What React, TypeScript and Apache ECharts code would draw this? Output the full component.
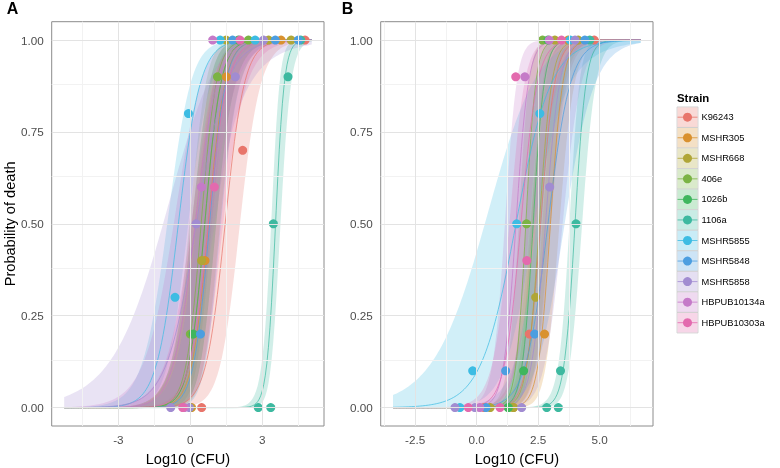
import React, { useEffect, useRef } from "react";
import * as echarts from "echarts";

const strains = ["K96243", "MSHR305", "MSHR668", "406e", "1026b", "1106a", "MSHR5855", "MSHR5848", "MSHR5858", "HBPUB10134a", "HBPUB10303a"];
const colors = ["#E8756B", "#D9912F", "#B0A637", "#7BB344", "#3FB65D", "#3DB9A0", "#3DBCE3", "#4C9EE0", "#A18CD1", "#C57AC8", "#E36AAE"];

// fitted logistic model per strain: [LD50 midpoint, slope, se centre, se0, se1]
const fitA = [
  [1.45, 2.5, 1.5, 1.5, 0.6],
  [0.75, 2.9, 1.0, 1.4, 1.1],
  [0.6, 3.0, 0.8, 1.4, 1.1],
  [0.45, 3.2, 0.6, 1.4, 1.1],
  [0.6, 3.0, 0.8, 1.4, 1.1],
  [3.55, 5.5, 3.4, 1.0, 1.5],
  [-0.5, 2.2, 0.0, 0.9, 0.5],
  [0.8, 3.0, 1.0, 1.4, 1.1],
  [0.25, 1.6, 1.2, 1.2, 0.8],
  [0.2, 2.2, 0.8, 1.5, 0.85],
  [0.75, 2.5, 1.0, 1.5, 1.0],
];
const fitB = [
  [2.6, 3.5, 2.6, 1.4, 1.0],
  [3.0, 4.0, 2.8, 1.3, 1.2],
  [2.55, 4.0, 2.0, 1.3, 1.1],
  [2.0, 5.0, 2.0, 1.4, 1.3],
  [2.3, 4.5, 2.0, 1.3, 1.2],
  [4.0, 4.5, 3.6, 1.0, 1.2],
  [1.6, 1.4, 3.0, 1.0, 0.55],
  [2.9, 2.2, 2.0, 1.0, 0.7],
  [2.8, 3.5, 1.5, 1.4, 1.0],
  [1.6, 4.0, 1.0, 1.8, 1.1],
  [1.8, 3.0, 1.2, 1.4, 1.0],
];

// observed proportion of deaths [log10 CFU, proportion]
const pointsA = [
  [[0.47, 0], [2.18, 0.7], [4.78, 1]],
  [[0.05, 0], [0.61, 0.4], [1.5, 0.9], [3.78, 1]],
  [[0.0, 0], [0.47, 0.4], [1.49, 1], [3.26, 1], [4.2, 1]],
  [[0.0, 0.2], [1.13, 0.9], [2.42, 1]],
  [[0.12, 0.2], [2.0, 1]],
  [[2.83, 0], [3.35, 0], [3.46, 0.5], [4.07, 0.9], [4.6, 1]],
  [[-0.64, 0.3], [-0.08, 0.8], [1.24, 1], [2.7, 1]],
  [[0.42, 0.2], [1.76, 1], [3.54, 1], [4.5, 1]],
  [[-0.82, 0], [-0.04, 0], [0.24, 0.5], [1.875, 0.9], [3.05, 1]],
  [[-0.25, 0], [0.46, 0.6], [0.93, 1]],
  [[-0.32, 0], [1.0, 0.6], [2.07, 1]],
];
const pointsB = [
  [[0.3, 0], [2.14, 0.2], [4.78, 1]],
  [[1.5, 0], [2.76, 0.2], [3.72, 1]],
  [[0.55, 0], [1.49, 0], [2.4, 0.3], [3.18, 1], [4.13, 1]],
  [[1.3, 0], [2.03, 0.5], [2.68, 1]],
  [[1.28, 0], [1.91, 0.1], [2.9, 1]],
  [[2.85, 0], [3.32, 0], [3.41, 0.1], [4.04, 0.5], [4.6, 1]],
  [[-0.68, 0], [-0.16, 0.1], [1.63, 0.5], [2.57, 0.8], [3.8, 1]],
  [[0.38, 0], [1.18, 0.1], [2.36, 0.2], [4.4, 1]],
  [[-0.88, 0], [-0.07, 0], [1.83, 0], [2.97, 0.6], [4.0, 1]],
  [[0.13, 0], [1.96, 0.9], [2.95, 1]],
  [[-0.34, 0], [0.95, 0], [2.04, 0.4], [1.59, 0.9], [3.45, 1]],
];

const axisA = { min: -5.78, max: 5.57, curve: [-5.26, 5.06], major: [-3, 0, 3], minor: [-4.5, -1.5, 1.5, 4.5], digits: 0 };
const axisB = { min: -3.9, max: 7.17, curve: [-3.4, 6.67], major: [-2.5, 0, 2.5, 5], minor: [-3.75, -1.25, 1.25, 3.75, 6.25], digits: 1 };
const yMajor = [0, 0.25, 0.5, 0.75, 1];
const yMinor = [0.125, 0.375, 0.625, 0.875];

const FONT = "'Liberation Sans', Arial, sans-serif";

function rgba(hex: string, a: number) {
  const n = parseInt(hex.slice(1), 16);
  return `rgba(${(n >> 16) & 255},${(n >> 8) & 255},${n & 255},${a})`;
}
const plogis = (e: number) => 1 / (1 + Math.exp(-e));

function predict(fit: number[], range: number[]) {
  const [m, b, c, s0, s1] = fit;
  const out: number[][] = [];
  const n = 160;
  for (let i = 0; i <= n; i++) {
    const x = range[0] + ((range[1] - range[0]) * i) / n;
    const eta = b * (x - m);
    const hw = Math.sqrt(s0 * s0 + s1 * s1 * (x - c) * (x - c));
    out.push([x, plogis(eta), plogis(eta - hw), plogis(eta + hw)]);
  }
  return out;
}

const GRID_TOP = 21.7;
const GRID_H = 404.3;
const GRID_W = 272.3;
const LEFTS = [51.7, 380.7];

export default function App() {
  const ref = useRef<HTMLDivElement>(null);
  useEffect(() => {
    if (!ref.current) return;
    const chart = echarts.init(ref.current, undefined, { renderer: "svg" });
    const panels = [
      { axis: axisA, fit: fitA, pts: pointsA },
      { axis: axisB, fit: fitB, pts: pointsB },
    ];
    const series: any[] = [];
    panels.forEach((p, pi) => {
      series.push({
        type: "line",
        xAxisIndex: pi,
        yAxisIndex: pi,
        data: [],
        z: 0,
        silent: true,
        markLine: {
          silent: true,
          symbol: "none",
          label: { show: false },
          animation: false,
          data: [
            ...p.axis.minor.map((v) => ({ xAxis: v, lineStyle: { color: "#F2F2F2", width: 1, type: "solid" } })),
            ...yMinor.map((v) => ({ yAxis: v, lineStyle: { color: "#F2F2F2", width: 1, type: "solid" } })),
            ...p.axis.major.map((v) => ({ xAxis: v, lineStyle: { color: "#E3E3E3", width: 1, type: "solid" } })),
            ...yMajor.map((v) => ({ yAxis: v, lineStyle: { color: "#E3E3E3", width: 1, type: "solid" } })),
          ],
        },
      });
      const preds = p.fit.map((f) => predict(f, p.axis.curve));
      preds.forEach((band, si) => {
        const fill = rgba(colors[si], 0.24);
        series.push({
          type: "custom",
          xAxisIndex: pi,
          yAxisIndex: pi,
          z: 1,
          silent: true,
          data: band.map((d) => [d[0], d[2], d[3]]),
          encode: { x: 0, y: [1, 2] },
          renderItem: (params: any, api: any) => {
            if (params.dataIndex !== 0) return null;
            const up = band.map((d) => api.coord([d[0], d[3]]));
            const lo = band.map((d) => api.coord([d[0], d[2]])).reverse();
            return { type: "polygon", shape: { points: up.concat(lo) }, style: { fill, stroke: "none" } };
          },
        });
      });
      preds.forEach((band, si) => {
        series.push({
          type: "line",
          xAxisIndex: pi,
          yAxisIndex: pi,
          z: 2,
          silent: true,
          showSymbol: false,
          symbol: "none",
          data: band.map((d) => [d[0], d[1]]),
          lineStyle: { color: colors[si], width: 0.8, opacity: 0.9 },
        });
      });
      p.pts.forEach((pts, si) => {
        series.push({
          type: "scatter",
          name: strains[si],
          xAxisIndex: pi,
          yAxisIndex: pi,
          z: 3,
          symbolSize: 9,
          data: pts,
          itemStyle: { color: colors[si], opacity: 1 },
        });
      });
    });

    const xAxes = panels.map((p, pi) => ({
      type: "value",
      gridIndex: pi,
      min: p.axis.min,
      max: p.axis.max,
      axisLine: { show: false },
      splitLine: { show: false },
      axisTick: { show: true, customValues: p.axis.major, length: 4, lineStyle: { color: "#333" } },
      axisLabel: {
        customValues: p.axis.major,
        formatter: (v: number) => v.toFixed(p.axis.digits),
        color: "#4D4D4D",
        fontSize: 11.7,
        fontFamily: FONT,
        margin: 7,
      },
    }));
    const yAxes = panels.map((p, pi) => ({
      type: "value",
      gridIndex: pi,
      min: -0.05,
      max: 1.05,
      axisLine: { show: false },
      splitLine: { show: false },
      axisTick: { show: true, customValues: yMajor, length: 4, lineStyle: { color: "#333" } },
      axisLabel: {
        customValues: yMajor,
        formatter: (v: number) => v.toFixed(2),
        color: "#4D4D4D",
        fontSize: 11.7,
        fontFamily: FONT,
        margin: 8,
      },
    }));

    const graphic: any[] = [
      { type: "text", x: 12.5, y: 8, style: { text: "A", font: `bold 16px ${FONT}`, fill: "#000", textAlign: "center", textVerticalAlign: "middle" } },
      { type: "text", x: 347.5, y: 8, style: { text: "B", font: `bold 16px ${FONT}`, fill: "#000", textAlign: "center", textVerticalAlign: "middle" } },
      { type: "text", x: 10, y: GRID_TOP + GRID_H / 2, rotation: Math.PI / 2, style: { text: "Probability of death", font: `14.6px ${FONT}`, fill: "#000", textAlign: "center", textVerticalAlign: "middle" } },
      ...LEFTS.map((l) => ({ type: "text", x: l + GRID_W / 2, y: 459, style: { text: "Log10 (CFU)", font: `14.6px ${FONT}`, fill: "#000", textAlign: "center", textVerticalAlign: "middle" } })),
      { type: "text", x: 677, y: 98.3, style: { text: "Strain", font: `bold 11.4px ${FONT}`, fill: "#000", textAlign: "left", textVerticalAlign: "middle" } },
    ];
    strains.forEach((s, i) => {
      const cy = 117.2 + i * 20.55;
      graphic.push({ type: "rect", x: 677, y: cy - 10.25, shape: { width: 21, height: 20.5 }, style: { fill: "#fff", stroke: "#CCCCCC", lineWidth: 0.8 } });
      graphic.push({ type: "rect", x: 677.5, y: cy - 9.8, shape: { width: 20, height: 19.6 }, style: { fill: rgba(colors[i], 0.28) } });
      graphic.push({ type: "line", shape: { x1: 677.5, y1: cy, x2: 697.5, y2: cy }, style: { stroke: colors[i], lineWidth: 0.8 } });
      graphic.push({ type: "circle", shape: { cx: 687.5, cy, r: 4.5 }, style: { fill: colors[i] } });
      graphic.push({ type: "text", x: 701.5, y: cy, style: { text: s, font: `9.3px ${FONT}`, fill: "#000", textAlign: "left", textVerticalAlign: "middle" } });
    });

    chart.setOption({
      animation: false,
      textStyle: { fontFamily: FONT },
      grid: LEFTS.map((l) => ({
        left: l,
        top: GRID_TOP,
        width: GRID_W,
        height: GRID_H,
        show: true,
        borderColor: "#8C8C8C",
        borderWidth: 1,
        backgroundColor: "transparent",
        containLabel: false,
      })),
      xAxis: xAxes,
      yAxis: yAxes,
      series,
      graphic,
    });
    return () => chart.dispose();
  }, []);
  return <div ref={ref} style={{ position: "fixed", left: 0, top: 0, width: 780, height: 468 }} />;
}
